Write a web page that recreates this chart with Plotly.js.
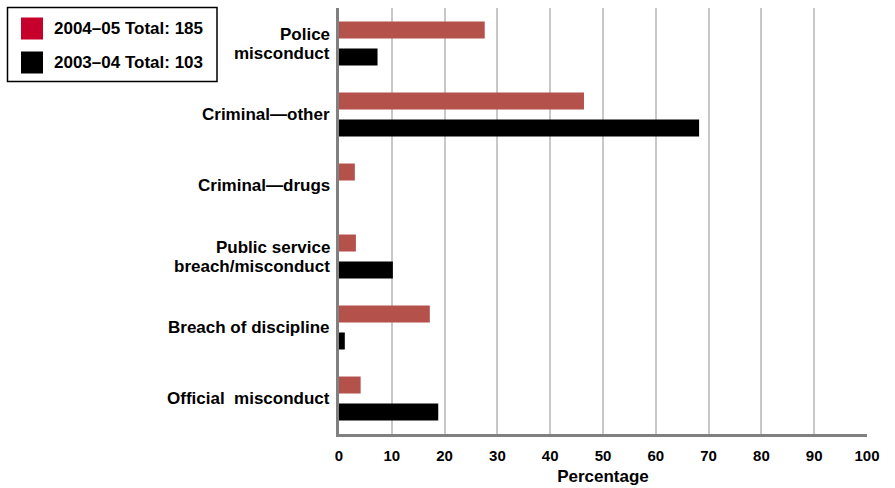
<!DOCTYPE html>
<html>
<head>
<meta charset="utf-8">
<script src="https://cdn.plot.ly/plotly-3.0.1.min.js"></script>
<style>
  html, body { margin: 0; padding: 0; background: #fff; }
  #chart { width: 895px; height: 488px; }
</style>
</head>
<body>
<div id="chart"></div>
<script>
// Complaint categories, top to bottom
const categories = [
  "Police<br>misconduct",
  "Criminal\u2014other",
  "Criminal\u2014drugs",
  "Public service<br>breach/misconduct",
  "Breach of discipline",
  "Official  misconduct"
];

// Share of matters (%) per year
const pct2004_05 = [27.6, 46.4, 3.0, 3.2, 17.2, 4.1];
const pct2003_04 = [7.3, 68.2, 0, 10.2, 1.1, 18.8];

const seriesNames = ["2004\u201305 Total: 185", "2003\u201304 Total: 103"];
const xTicks = [0, 10, 20, 30, 40, 50, 60, 70, 80, 90, 100];

const W = 895, H = 488;
const M = { l: 339, r: 28, t: 8, b: 54 };
const pw = W - M.l - M.r, ph = H - M.t - M.b;
// pixel -> paper helpers for the hand-drawn legend box
const px = x => (x - M.l) / pw;
const py = y => (H - M.b - y) / ph;

const FONT = "Liberation Sans, Arial, sans-serif";
const LABEL_SIZE = 17;
const LINE_STEP = 19; // line spacing for two-line category labels

const traces = [
  {
    type: "bar", orientation: "h",
    y: categories, x: pct2004_05,
    name: seriesNames[0],
    marker: { color: "#b5514b" },
    showlegend: false, hoverinfo: "x"
  },
  {
    type: "bar", orientation: "h",
    y: categories, x: pct2003_04,
    name: seriesNames[1],
    marker: { color: "#000000" },
    showlegend: false, hoverinfo: "x"
  }
];

const swatchColors = ["#c4002b", "#000000"];
const shapes = [
  // legend frame
  { type: "rect", xref: "paper", yref: "paper",
    x0: px(7.5), x1: px(217), y0: py(7.5), y1: py(81.5),
    line: { color: "#000", width: 1.5 }, fillcolor: "#fff", layer: "above" }
];
const annotations = [];
const rowY = [28.5, 62.5];
seriesNames.forEach((name, i) => {
  shapes.push({ type: "rect", xref: "paper", yref: "paper",
    x0: px(21), x1: px(43), y0: py(rowY[i] - 11), y1: py(rowY[i] + 11),
    line: { width: 0 }, fillcolor: swatchColors[i], layer: "above" });
  annotations.push({ xref: "paper", yref: "paper",
    x: px(52), y: py(rowY[i]), xanchor: "left", yanchor: "middle",
    text: "<b>" + name + "</b>", showarrow: false,
    font: { family: FONT, size: LABEL_SIZE, color: "#000" } });
});

// Category labels, one annotation per text line
categories.forEach(cat => {
  const lines = cat.split("<br>");
  lines.forEach((line, j) => {
    const shift = ((lines.length - 1) / 2 - j) * LINE_STEP;
    annotations.push({ xref: "paper", yref: "y",
      x: 0, y: cat, xanchor: "right", yanchor: "middle",
      xshift: -8, yshift: shift, borderpad: 0,
      text: "<b>" + line + "</b>", showarrow: false,
      font: { family: FONT, size: LABEL_SIZE, color: "#000" } });
  });
});

const layout = {
  width: W, height: H,
  margin: M,
  paper_bgcolor: "#fff", plot_bgcolor: "#fff",
  barmode: "group",
  bargap: 0.24,
  bargroupgap: 0.37,
  showlegend: false,
  font: { family: FONT, color: "#000" },
  xaxis: {
    range: [0, 100],
    tickvals: xTicks,
    ticktext: xTicks.map(v => "<b>" + v + "</b>"),
    tickfont: { family: FONT, size: 15, color: "#000" },
    showgrid: true, gridcolor: "#c8c8c8", gridwidth: 2,
    zeroline: false,
    showline: true, linecolor: "#808080", linewidth: 3,
    ticks: "", ticklabelstandoff: 6,
    title: { text: "<b>Percentage</b>", font: { family: FONT, size: 17, color: "#000" }, standoff: 8 },
    fixedrange: true
  },
  yaxis: {
    autorange: "reversed",
    type: "category",
    showticklabels: false,
    showgrid: false, zeroline: false,
    showline: true, linecolor: "#808080", linewidth: 3,
    ticks: "",
    fixedrange: true
  },
  shapes: shapes,
  annotations: annotations
};

Plotly.newPlot("chart", traces, layout, { displayModeBar: false, staticPlot: true });
</script>
</body>
</html>
